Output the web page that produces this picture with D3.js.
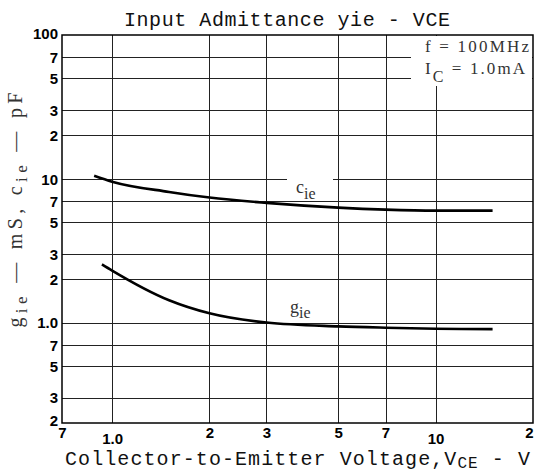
<!DOCTYPE html>
<html>
<head>
<meta charset="utf-8">
<script src="https://cdn.jsdelivr.net/npm/d3@7"></script>
<style>
  body { margin: 0; background: #fff; }
  svg { display: block; }
  .grid line { stroke: #222; stroke-width: 1; shape-rendering: crispEdges; }
  .grid path { display: none; }
  .tick-label text { font-family: "Liberation Sans", Arial, sans-serif; font-weight: bold; font-size: 15px; fill: #000; }
  .mono { font-family: "Liberation Mono", "DejaVu Sans Mono", monospace; fill: #111; }
  .thin { font-family: "Liberation Serif", "DejaVu Serif", serif; fill: #333; }
</style>
</head>
<body>
<div class="container"></div>
<script>
// x: collector-to-emitter voltage (V), log axis
const xTicks = [0.7, 1, 2, 3, 5, 7, 10, 20]
const xTickLabels = ['7', '1.0', '2', '3', '5', '7', '10', '2']
const xGrid = [1, 2, 3, 5, 7, 10]

// y: mS / pF, log axis
const yTicks = [0.2, 0.3, 0.5, 0.7, 1, 2, 3, 5, 7, 10, 20, 30, 50, 70, 100]
const yTickLabels = ['2', '3', '5', '7', '1.0', '2', '3', '5', '7', '10', '2', '3', '5', '7', '100']
const yGrid = [0.3, 0.5, 0.7, 1, 2, 3, 5, 7, 10, 20, 30, 50, 70]

// c_ie (pF)
const cieV = [0.88, 1.0, 1.5, 2, 3, 5, 7, 10, 15]
const cieVal = [10.5, 9.55, 8.1, 7.4, 6.8, 6.3, 6.1, 6.0, 6.0]

// g_ie (mS)
const gieV = [0.93, 1.0, 1.5, 2, 3, 5, 7, 10, 15]
const gieVal = [2.54, 2.3, 1.43, 1.16, 1.0, 0.94, 0.92, 0.905, 0.9]

const width = 534
const height = 473
const plotLeft = 62
const plotRight = 533
const plotTop = 35
const plotBottom = 423

const svg = d3.select('.container').append('svg')
  .attr('width', width)
  .attr('height', height)

const x = d3.scaleLog().domain([0.7, 20]).range([plotLeft, plotRight])
const y = d3.scaleLog().domain([0.2, 100]).range([plotBottom, plotTop])

// grid
svg.append('g').attr('class', 'grid')
  .attr('transform', `translate(0, ${ plotBottom })`)
  .call(d3.axisBottom(x).tickValues(xGrid).tickSize(-(plotBottom - plotTop)).tickFormat(''))

svg.append('g').attr('class', 'grid')
  .attr('transform', `translate(${ plotLeft }, 0)`)
  .call(d3.axisLeft(y).tickValues(yGrid).tickSize(-(plotRight - plotLeft)).tickFormat(''))

// white box behind the conditions note
svg.append('rect')
  .attr('x', 411).attr('y', plotTop + 1)
  .attr('width', plotRight - 411 - 1).attr('height', 50)
  .attr('fill', '#fff')

// tick labels
const xAxis = svg.append('g').attr('class', 'tick-label')
  .attr('transform', `translate(0, ${ plotBottom })`)
  .call(d3.axisBottom(x).tickValues(xTicks).tickSize(0).tickPadding(4)
    .tickFormat((d, i) => xTickLabels[i]))
xAxis.select('.domain').remove()
xAxis.selectAll('.tick text')
  .attr('dy', d => (d === 1 || d === 10) ? '1.1em' : '0.7em')
  .attr('dx', d => d === 20 ? -4 : 0)

const yAxis = svg.append('g').attr('class', 'tick-label')
  .attr('transform', `translate(${ plotLeft - 4 }, 0)`)
  .call(d3.axisLeft(y).tickValues(yTicks).tickSize(0).tickPadding(0)
    .tickFormat((d, i) => yTickLabels[i]))
yAxis.select('.domain').remove()
yAxis.selectAll('.tick text')
  .attr('dy', d => d === 0.2 ? '0.15em' : (d === 100 ? '0.2em' : '0.35em'))

// frame
svg.append('rect')
  .attr('x', plotLeft).attr('y', plotTop)
  .attr('width', plotRight - plotLeft).attr('height', plotBottom - plotTop)
  .attr('fill', 'none').attr('stroke', '#000').attr('stroke-width', 1.5)

// curves
const line = d3.line()
  .x(d => x(d[0]))
  .y(d => y(d[1]))
  .curve(d3.curveMonotoneX)

// break in the 10 line behind the c_ie label
svg.append('rect')
  .attr('x', 287).attr('y', 174)
  .attr('width', 46).attr('height', 22)
  .attr('fill', '#fff')

svg.append('path')
  .datum(cieV.map((v, i) => [v, cieVal[i]]))
  .attr('d', line)
  .attr('fill', 'none').attr('stroke', '#000').attr('stroke-width', 2.6)

svg.append('path')
  .datum(gieV.map((v, i) => [v, gieVal[i]]))
  .attr('d', line)
  .attr('fill', 'none').attr('stroke', '#000').attr('stroke-width', 2.6)

// curve labels
const cLabel = svg.append('text').attr('class', 'thin')
  .attr('x', 296).attr('y', 193).style('font-size', '18px')
cLabel.append('tspan').text('c')
cLabel.append('tspan').attr('dy', 6).style('font-size', '16px').text('ie')

const gLabel = svg.append('text').attr('class', 'thin')
  .attr('x', 290).attr('y', 313).style('font-size', '18px')
gLabel.append('tspan').text('g')
gLabel.append('tspan').attr('dy', 5).style('font-size', '16px').text('ie')

// conditions
svg.append('text').attr('class', 'thin')
  .attr('x', 425).attr('y', 52).style('font-size', '17px')
  .attr('textLength', 104)
  .text('f = 100MHz')

const icLabel = svg.append('text').attr('class', 'thin')
  .attr('x', 425).attr('y', 74).style('font-size', '17px')
  .attr('textLength', 100)
icLabel.append('tspan').text('I')
icLabel.append('tspan').attr('dy', 8).style('font-size', '16px').text('C')
icLabel.append('tspan').attr('dy', -8).text(' = 1.0mA')

// title
svg.append('text').attr('class', 'mono')
  .attr('x', 287).attr('y', 26)
  .attr('text-anchor', 'middle')
  .style('font-size', '20px')
  .attr('textLength', 326)
  .text('Input Admittance yie - VCE')

// x label
const xLabel = svg.append('text').attr('class', 'mono')
  .attr('x', 65).attr('y', 465)
  .style('font-size', '20px')
  .attr('textLength', 465)
xLabel.append('tspan').text('Collector-to-Emitter Voltage,V')
xLabel.append('tspan').attr('dy', 3).style('font-size', '16px').text('CE')
xLabel.append('tspan').attr('dy', -3).text(' - V')

// y label
const yLabel = svg.append('text').attr('class', 'thin')
  .attr('transform', 'translate(22, 210) rotate(-90)')
  .attr('text-anchor', 'middle')
  .style('font-size', '20px')
  .attr('textLength', 235)
yLabel.append('tspan').text('g')
yLabel.append('tspan').attr('dy', 5).style('font-size', '17px').text('ie')
yLabel.append('tspan').attr('dy', -5).text(' \u2014 mS, c')
yLabel.append('tspan').attr('dy', 5).style('font-size', '17px').text('ie')
yLabel.append('tspan').attr('dy', -5).text(' \u2014 pF')
</script>
</body>
</html>
